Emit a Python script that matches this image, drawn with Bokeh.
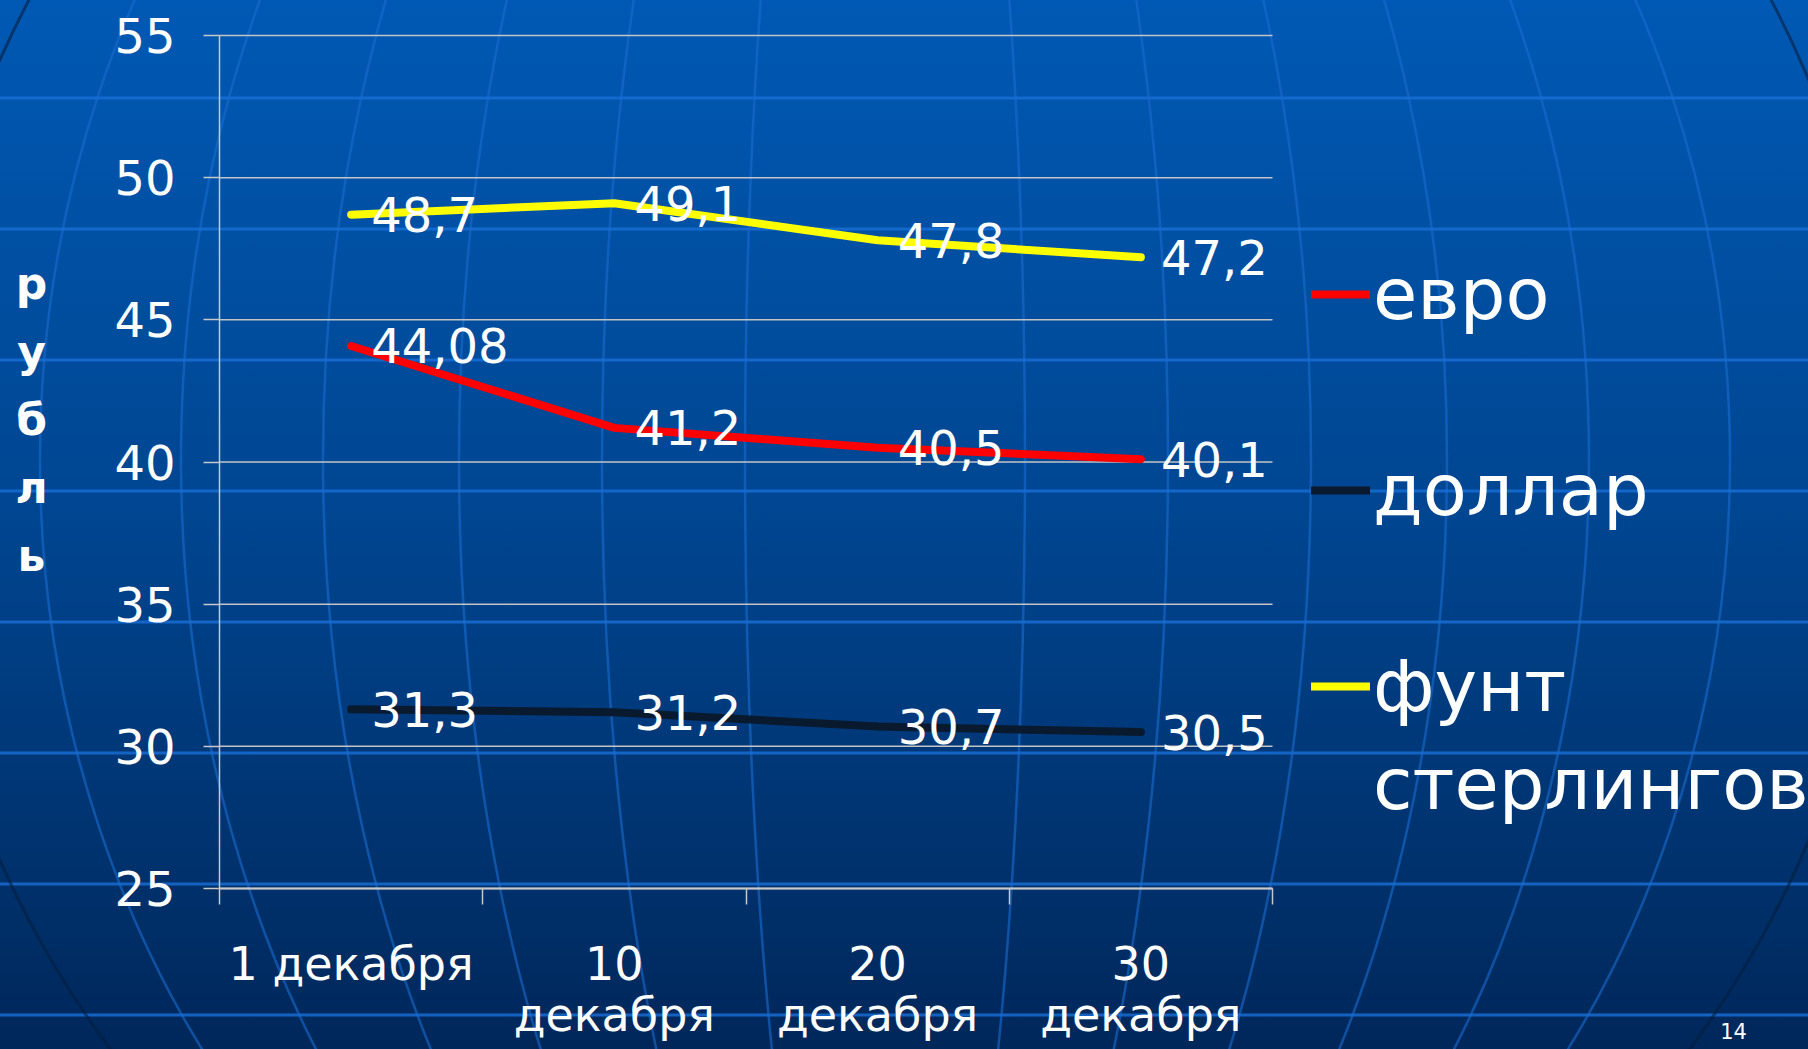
from urllib.parse import quote

from bokeh.plotting import figure
from bokeh.models import (Range1d, FixedTicker, ColumnDataSource, LabelSet, Label,
                          Legend, LegendItem)
from bokeh.embed import file_html
from bokeh.resources import INLINE
from bokeh.core.properties import value

# ---------------- data ----------------
dates = ["1 декабря", "10\nдекабря", "20\nдекабря", "30\nдекабря"]
euro = [44.08, 41.2, 40.5, 40.1]
dollar = [31.3, 31.2, 30.7, 30.5]
pound = [48.7, 49.1, 47.8, 47.2]
series_names = ["евро", "доллар", "фунт стерлингов"]
series_colors = ["#ff0000", "#0a1a2e", "#ffff00"]
y_ticks = [25, 30, 35, 40, 45, 50, 55]
y_label = "рубль"
page_number = "14"

FONT = "DejaVu Sans"
W, H = 1808, 1049
# pixel layout of the chart area on the slide
AXIS_LEFT, AXIS_RIGHT, AXIS_TOP, AXIS_BOTTOM = 219, 1272, 35, 888

# ---------------- background (slide decoration, CSS) ----------------
def background_svg(w, h):
    cx, cy, ry = 885, 460, 1000
    s = [f"<svg xmlns='http://www.w3.org/2000/svg' width='{w}' height='{h}' viewBox='0 0 {w} {h}'>",
         "<defs><linearGradient id='g' x1='0' y1='0' x2='0' y2='1'>"
         "<stop offset='0' stop-color='#0059b4'/><stop offset='0.5' stop-color='#004590'/>"
         "<stop offset='1' stop-color='#00275a'/></linearGradient></defs>",
         f"<rect width='{w}' height='{h}' fill='url(#g)'/>",
         "<g fill='none' stroke='#1a70d8' stroke-width='3' opacity='0.8'>"]
    for k in range(8):
        y = 98 + 131 * k
        s.append(f"<line x1='0' y1='{y}' x2='{w}' y2='{y}'/>")
    s.append("</g><g fill='none' stroke='#1a6cd0' stroke-width='2.5' opacity='0.6'>")
    for rx in [140, 283, 426, 562, 704, 845]:
        s.append(f"<ellipse cx='{cx}' cy='{cy}' rx='{rx}' ry='{ry}'/>")
    s.append("</g>")
    s.append(f"<circle cx='{cx + 15}' cy='{cy}' r='985' fill='none' stroke='#00203f' stroke-width='3' opacity='0.6'/>")
    s.append("</svg>")
    return "".join(s)

bg = quote(background_svg(W, H), safe="")

# ---------------- figure: the frame covers the whole slide ----------------
n = len(dates)
xs = [i + 0.5 for i in range(n)]
y0, y1 = min(y_ticks), max(y_ticks)
ux = (AXIS_RIGHT - AXIS_LEFT) / n            # px per category
uy = (AXIS_BOTTOM - AXIS_TOP) / (y1 - y0)    # px per rouble
x_range = Range1d(-AXIS_LEFT / ux, (W - AXIS_LEFT) / ux)
y_range = Range1d(y0 - (H - AXIS_BOTTOM) / uy, y1 + AXIS_TOP / uy)

p = figure(width=W, height=H, output_backend="svg", toolbar_location=None,
           x_range=x_range, y_range=y_range,
           min_border_left=0, min_border_right=0, min_border_top=0, min_border_bottom=0)
p.title.visible = False
p.styles = {"background-image": f'url("data:image/svg+xml,{bg}")',
            "background-size": "100% 100%"}
p.border_fill_color = None
p.background_fill_color = None
p.outline_line_color = None
p.grid.visible = False

AX = "#c8c8c8"

# horizontal gridlines across the category span
p.segment(x0=[0] * len(y_ticks), x1=[n] * len(y_ticks), y0=y_ticks, y1=y_ticks,
          line_color="#c4c4c4", line_width=1.5)

# x axis at y = 25: ticks between the categories, labels at the centres
xa = p.xaxis[0]
xa.fixed_location = y0
xa.bounds = (0, n)
xa.ticker = FixedTicker(ticks=xs, minor_ticks=list(range(n + 1)))
xa.major_label_overrides = {x: d for x, d in zip(xs, dates)}
xa.major_tick_out = 0
xa.major_tick_in = 0
xa.minor_tick_out = 16
xa.minor_tick_in = 0
xa.minor_tick_line_color = AX
xa.minor_tick_line_width = 1.5
xa.axis_line_color = AX
xa.axis_line_width = 2
xa.major_label_standoff = 32
xa.major_label_text_font = FONT
xa.major_label_text_font_size = "46px"
xa.major_label_text_color = "white"
xa.major_label_text_line_height = 0.96

ya = p.yaxis[0]
ya.fixed_location = 0
ya.bounds = (y0, y1)
ya.ticker = FixedTicker(ticks=y_ticks)
ya.major_tick_out = 16
ya.major_tick_in = 0
ya.minor_tick_out = 0
ya.minor_tick_in = 0
ya.minor_tick_line_color = None
ya.major_tick_line_color = AX
ya.major_tick_line_width = 1.5
ya.axis_line_color = AX
ya.axis_line_width = 1.5
ya.major_label_standoff = 28
ya.major_label_text_font = FONT
ya.major_label_text_font_size = "48px"
ya.major_label_text_color = "white"

# ---------------- series ----------------
renderers = []
for vals, col in zip([euro, dollar, pound], series_colors):
    r = p.line(xs, vals, line_color=col, line_width=8, line_cap="round", line_join="round")
    renderers.append(r)
    src = ColumnDataSource(dict(x=xs, y=vals, t=[f"{v:g}".replace(".", ",") for v in vals]))
    p.add_layout(LabelSet(x="x", y="y", text="t", source=src, x_offset=20,
                          text_baseline="middle", text_align="left", text_color="white",
                          text_font_size="48px", text_font=value(FONT)))

# legend: one row per text line, blank rows keep the slide's spacing
blank = p.line(x=[], y=[], line_alpha=0)
first, second = series_names[2].split(" ")
items = [LegendItem(label=series_names[0], renderers=[renderers[0]]),
         LegendItem(label=" ", renderers=[blank]),
         LegendItem(label=series_names[1], renderers=[renderers[1]]),
         LegendItem(label=" ", renderers=[blank]),
         LegendItem(label=first, renderers=[renderers[2]]),
         LegendItem(label=second, renderers=[blank])]
legend = Legend(items=items, location=(1311, 216), orientation="vertical", padding=0, margin=0,
                spacing=0, glyph_width=59, glyph_height=98, label_standoff=3,
                label_text_font_size="72px", label_text_color="white", label_text_font=FONT,
                background_fill_alpha=0, border_line_alpha=0)
p.add_layout(legend, "center")

# axis title written letter under letter, left of the value axis
p.add_layout(Label(x=31, y=H - 419, x_units="screen", y_units="screen",
                   text="\n".join(y_label), text_align="center", text_baseline="middle",
                   text_font_style="bold", text_font_size="44px", text_line_height=1.33,
                   text_color="white", text_font=FONT))

p.add_layout(Label(x=1733, y=H - 1022, x_units="screen", y_units="screen",
                   text=page_number, text_align="center", text_baseline="top",
                   text_font_size="21px", text_color="white", text_font=FONT))

open("out.html", "w").write(file_html(p, INLINE))
